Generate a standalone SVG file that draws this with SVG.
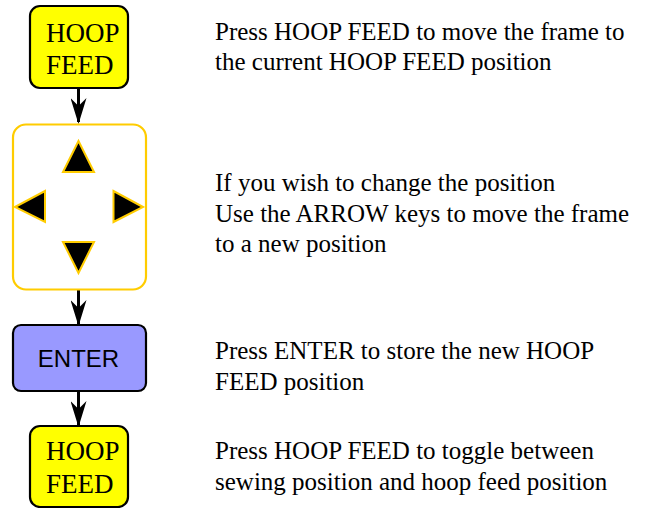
<svg xmlns="http://www.w3.org/2000/svg" width="650" height="508" viewBox="0 0 650 508">
<style>
.key{fill:#ffff00;stroke:#000;stroke-width:2.2}
.enter{fill:#9999ff;stroke:#000;stroke-width:2.2}
.frame{fill:#fff;stroke:#ffcc00;stroke-width:2.2}
.tri{fill:#000;stroke:#ffcc00;stroke-width:2;stroke-linejoin:miter}
.kt{font-family:"Liberation Serif","Times New Roman",serif;font-size:27px;fill:#000}
.et{font-family:"Liberation Sans",Arial,sans-serif;font-size:24px;fill:#000}
.desc{font-family:"Liberation Serif","Times New Roman",serif;font-size:25px;fill:#000}
.conn{stroke:#000;stroke-width:3;fill:none}
</style>
<defs>
<marker id="ah" markerUnits="userSpaceOnUse" viewBox="0 0 26 16" markerWidth="26" markerHeight="16" refX="24" refY="8" orient="auto">
<path d="M0,0 L26,8 L0,16 L8,8 Z" fill="#000"/>
</marker>
</defs>
<rect width="650" height="508" fill="#fff"/>
<g id="connectors">
<line class="conn" x1="78.5" y1="88" x2="78.5" y2="122" marker-end="url(#ah)"/>
<line class="conn" x1="78.5" y1="290" x2="78.5" y2="324" marker-end="url(#ah)"/>
<line class="conn" x1="78.5" y1="391" x2="78.5" y2="425" marker-end="url(#ah)"/>
</g>
<g id="hoopfeed1">
<rect class="key" x="30" y="6" width="98" height="82" rx="10"/>
<text class="kt" x="46" y="42">HOOP</text>
<text class="kt" x="46" y="74">FEED</text>
</g>
<g id="arrows">
<rect class="frame" x="13" y="124.5" width="133" height="165" rx="13"/>
<polygon class="tri" points="78.5,141 63,172 94,172"/>
<polygon class="tri" points="15,207 45,191 45,222"/>
<polygon class="tri" points="143,207 113.5,191 113.5,222"/>
<polygon class="tri" points="63,242 94,242 78.5,273"/>
</g>
<g id="enter">
<rect class="enter" x="13" y="325" width="133" height="66" rx="8"/>
<text class="et" x="78.5" y="367" text-anchor="middle">ENTER</text>
</g>
<g id="hoopfeed2">
<rect class="key" x="30" y="426" width="98" height="81" rx="10"/>
<text class="kt" x="46" y="460">HOOP</text>
<text class="kt" x="46" y="493">FEED</text>
</g>
<g id="descriptions">
<text class="desc" x="215" y="40">Press HOOP FEED to move the frame to</text>
<text class="desc" x="215" y="70">the current HOOP FEED position</text>
<text class="desc" x="215" y="191">If you wish to change the position</text>
<text class="desc" x="215" y="222">Use the ARROW keys to move the frame</text>
<text class="desc" x="215" y="252">to a new position</text>
<text class="desc" x="215" y="359">Press ENTER to store the new HOOP</text>
<text class="desc" x="215" y="390">FEED position</text>
<text class="desc" x="215" y="459">Press HOOP FEED to toggle between</text>
<text class="desc" x="215" y="490">sewing position and hoop feed position</text>
</g>
</svg>
